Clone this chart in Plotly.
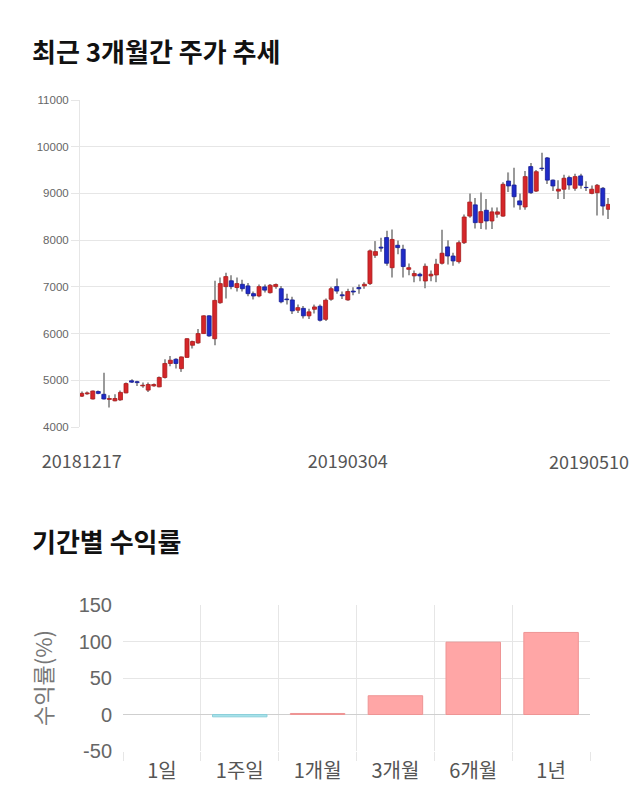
import pandas as pd
import plotly.graph_objects as go

# ---------------- data ----------------
holidays = ["2018-12-25", "2018-12-31", "2019-01-01", "2019-02-04", "2019-02-05",
            "2019-02-06", "2019-03-01", "2019-05-01", "2019-05-06"]
dates = [d.strftime("%Y%m%d") for d in pd.bdate_range("2018-12-17", "2019-05-10")
         if d.strftime("%Y-%m-%d") not in holidays]

opens = [4660, 4710, 4600, 4760, 4700, 4590, 4560, 4580, 4730, 4990,
         4970, 4880, 4790, 4880, 4860, 5060, 5360, 5450, 5250, 5490,
         5750, 5800, 6000, 6380, 5890, 6660, 7005, 7130, 6985, 7055,
         7020, 6855, 6805, 7000, 6875, 7005, 6960, 6740, 6720, 6500,
         6540, 6380, 6520, 6585, 6305, 6735, 7005, 6830, 6720, 6910,
         6985, 7020, 7070, 7675, 7850, 8055, 7410, 7890, 7805, 7375,
         7235, 7270, 7125, 7235, 7255, 7505, 7855, 7660, 7540, 7945,
         8515, 8755, 8375, 8640, 8410, 8555, 8515, 9265, 9180, 8840,
         8710, 9575, 9050, 9540, 9760, 9285, 9050, 9090, 9340, 9110,
         9375, 9130, 9000, 9015, 9110, 8660]
highs = [4760, 4760, 4780, 4780, 5160, 4680, 4700, 4780, 4950, 5020,
         4990, 4950, 4950, 4930, 5080, 5450, 5520, 5470, 5510, 5900,
         5850, 6100, 6390, 6390, 7130, 7200, 7300, 7250, 7200, 7150,
         7080, 6900, 7050, 7050, 7060, 7070, 7020, 6850, 6790, 6620,
         6590, 6530, 6620, 6620, 6750, 7000, 7180, 6900, 6960, 6990,
         7050, 7100, 7800, 7980, 8050, 8200, 8230, 7990, 7900, 7500,
         7350, 7300, 7500, 7350, 7600, 8220, 8000, 7730, 7990, 8550,
         9000, 8900, 9020, 8880, 8700, 8700, 9240, 9450, 9550, 9000,
         9480, 9650, 9500, 9870, 9780, 9300, 9280, 9400, 9380, 9420,
         9420, 9260, 9170, 9200, 9140, 8900]
lows = [4640, 4690, 4590, 4700, 4590, 4420, 4550, 4560, 4720, 4940,
        4880, 4840, 4750, 4860, 4850, 5040, 5300, 5250, 5180, 5480,
        5680, 5780, 5990, 5930, 5750, 6640, 6750, 6950, 6900, 6900,
        6800, 6730, 6780, 6880, 6860, 6960, 6650, 6620, 6420, 6440,
        6320, 6310, 6430, 6260, 6270, 6700, 6850, 6740, 6700, 6820,
        6850, 6960, 7040, 7620, 7750, 7450, 7200, 7700, 7200, 7250,
        7100, 7120, 6970, 7120, 7100, 7480, 7480, 7450, 7500, 7920,
        8480, 8250, 8240, 8230, 8240, 8480, 8500, 9030, 8700, 8650,
        8650, 8990, 9030, 9480, 9200, 9050, 8880, 8880, 9080, 9060,
        9100, 9050, 8980, 8530, 8530, 8450]
closes = [4720, 4730, 4770, 4720, 4600, 4610, 4610, 4740, 4930, 4960,
          4950, 4895, 4910, 4910, 5060, 5360, 5430, 5360, 5500, 5890,
          5830, 6000, 6380, 5950, 6710, 7070, 7220, 7005, 7070, 6960,
          6855, 6805, 7005, 6930, 7035, 7050, 6680, 6725, 6485, 6555,
          6380, 6465, 6570, 6285, 6715, 6960, 6910, 6810, 6900, 6890,
          6960, 7055, 7770, 7755, 7830, 7505, 8015, 7840, 7435, 7410,
          7285, 7235, 7440, 7270, 7485, 7720, 7660, 7555, 7945, 8495,
          8815, 8375, 8610, 8410, 8605, 8605, 9195, 9160, 8930, 8755,
          9360, 9015, 9465, 9530, 9285, 9160, 9090, 9325, 9180, 9360,
          9175, 9125, 9090, 9175, 8730, 8765]

price_ticks = [4000, 5000, 6000, 7000, 8000, 9000, 10000, 11000]
date_labels = ["20181217", "20190304", "20190510"]

periods = ["1일", "1주일", "1개월", "3개월", "6개월", "1년"]
returns = [0, -3.2, 1.4, 25.7, 99.1, 112.4]
return_ticks = [-50, 0, 50, 100, 150]

# ---------------- styles ----------------
RED, RED_LINE = "#d5262a", "#a81c1c"
BLUE, BLUE_LINE = "#1f2bc8", "#151c94"
WICK = "#9a9a9a"
GRID = "#e6e6e6"
POS, POS_LINE = "#ffa6a6", "#ee9494"
NEG, NEG_LINE = "#a6e2ea", "#8ccfda"
KR = "Noto Sans CJK KR"
ARIAL = "Liberation Sans"

body_base = [min(o, c) for o, c in zip(opens, closes)]
body_h = [abs(c - o) for o, c in zip(opens, closes)]
body_fill = [RED if c >= o else BLUE for o, c in zip(opens, closes)]
body_line = [RED_LINE if c >= o else BLUE_LINE for o, c in zip(opens, closes)]

fig = go.Figure()

# wicks
fig.add_trace(go.Bar(
    x=dates, y=[h - l for h, l in zip(highs, lows)], base=lows, width=0.2,
    marker=dict(color=WICK, line=dict(width=0)), xaxis="x", yaxis="y",
    showlegend=False, hoverinfo="skip"))
# bodies
fig.add_trace(go.Bar(
    x=dates, y=body_h, base=body_base, width=0.72,
    marker=dict(color=body_fill, line=dict(color=body_line, width=0.8)),
    xaxis="x", yaxis="y", showlegend=False,
    customdata=list(zip(opens, highs, lows, closes)),
    hovertemplate="%{x}<br>O %{customdata[0]}<br>H %{customdata[1]}<br>L %{customdata[2]}<br>C %{customdata[3]}<extra></extra>"))

# returns bar chart
fig.add_trace(go.Bar(
    x=periods, y=returns, width=0.7,
    marker=dict(color=[POS if v >= 0 else NEG for v in returns],
                line=dict(color=[POS_LINE if v >= 0 else NEG_LINE for v in returns],
                          width=[0 if v == 0 else 1 for v in returns])),
    xaxis="x2", yaxis="y2", showlegend=False))

fig.update_layout(
    width=640, height=810,
    margin=dict(l=0, r=0, t=0, b=0),
    paper_bgcolor="white", plot_bgcolor="white",
    barmode="overlay",
    font=dict(family=KR, color="#555"),
    xaxis=dict(
        domain=[80 / 640, 610 / 640], type="category",
        range=[-0.3, len(dates) - 0.7],
        tickmode="array", tickvals=date_labels[:2], ticktext=date_labels[:2],
        showgrid=False, zeroline=False, showline=False, ticks="",
        ticklabelstandoff=22,
        tickfont=dict(family=KR, size=18, color="#555"),
        automargin=False, fixedrange=True, anchor="y"),
    yaxis=dict(
        domain=[1 - 427 / 810, 1 - 100 / 810],
        range=[price_ticks[0], price_ticks[-1]],
        tickvals=price_ticks, ticktext=[str(v) for v in price_ticks],
        showgrid=True, gridcolor=GRID, gridwidth=1,
        zeroline=False, showline=True, linecolor=GRID, linewidth=1,
        ticks="outside", ticklen=8, tickcolor=GRID,
        tickfont=dict(family=ARIAL, size=11.5, color="#666"),
        automargin=False, anchor="x"),
    xaxis2=dict(
        domain=[123 / 640, 590 / 640], type="category",
        tickson="boundaries", showgrid=True, gridcolor=GRID,
        ticks="outside", ticklen=9, tickcolor=GRID,
        showline=False, zeroline=False,
        ticklabelstandoff=6,
        tickfont=dict(family=KR, size=20, color="#555"),
        automargin=False, anchor="y2"),
    yaxis2=dict(
        domain=[1 - 751 / 810, 1 - 605 / 810],
        range=[return_ticks[0], return_ticks[-1]], tickvals=return_ticks,
        ticktext=[str(v) for v in return_ticks],
        showgrid=True, gridcolor=GRID, zeroline=True, zerolinecolor="#cfcfcf",
        zerolinewidth=1, showline=False, ticks="",
        ticklabelstandoff=10,
        tickfont=dict(family=ARIAL, size=20, color="#666"),
        title=dict(text="수익률(%)", font=dict(family=KR, size=22, color="#777"), standoff=19),
        automargin=False, anchor="x2"),
    annotations=[
        dict(text="<b>최근 3개월간 주가 추세</b>", xref="paper", yref="paper",
             x=30 / 640, y=1 - 50 / 810, xanchor="left", yanchor="middle",
             showarrow=False, font=dict(family=KR, size=26, color="#111")),
        dict(text="<b>기간별 수익률</b>", xref="paper", yref="paper",
             x=30 / 640, y=1 - 540 / 810, xanchor="left", yanchor="middle",
             showarrow=False, font=dict(family=KR, size=26, color="#111")),
        # last date label, kept inside the frame (right-aligned near the plot's end)
        dict(text=date_labels[2], xref="x domain", yref="paper",
             x=1, y=1 - 461 / 810, xanchor="right", yanchor="middle",
             xshift=21, showarrow=False, font=dict(family=KR, size=18, color="#555")),
    ],
)

fig.write_html("out.html")
